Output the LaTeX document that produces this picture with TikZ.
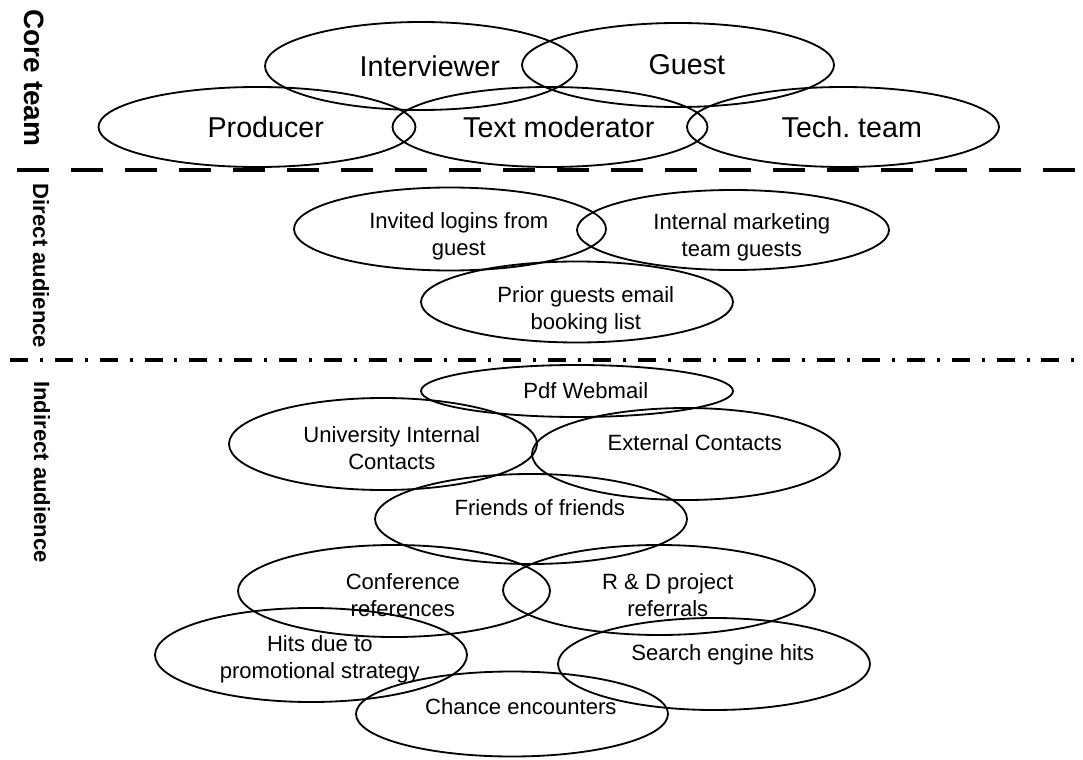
\documentclass[tikz,border=0pt]{standalone}
\usepackage{fontspec}
\setmainfont{Liberation Sans}
\usetikzlibrary{shapes.geometric}

\begin{document}
\begin{tikzpicture}[
    oval/.style={draw, ellipse, line width=1.3pt, inner sep=0pt, minimum width=7.8cm},
    big/.style={font=\fontsize{20.4}{24}\selectfont, xshift=2.2mm},
    txt/.style={font=\fontsize{15.7}{19}\selectfont, align=center, xshift=2.2mm},
    side/.style={font=\bfseries\fontsize{15.7}{19}\selectfont, rotate=-90}
  ]
  \useasboundingbox (0,0) rectangle (27.075,-19);

  % Core team
  \node[oval, minimum height=2.2cm, label={[big]center:Interviewer}] (intv) at (10.525,-1.65) {};
  \node[oval, minimum height=2.1cm, label={[big]center:Guest}] (guest) at (16.95,-1.625) {};
  \node[oval, minimum width=7.925cm, minimum height=2cm, label={[big]center:Producer}] (prod) at (6.425,-3.175) {};
  \node[oval, minimum width=7.875cm, minimum height=2cm, label={[big]center:Text moderator}] (tmod) at (13.75,-3.175) {};
  \node[oval, minimum height=2cm, label={[big]center:{Tech.\ team}}] (tech) at (21.075,-3.175) {};

  % Direct audience
  \node[oval, minimum height=2.075cm, label={[txt, yshift=-1.9mm]center:{Invited logins from\\guest}}] (invited) at (11.25,-5.725) {};
  \node[oval, minimum height=2cm, label={[txt, yshift=-1.75mm]center:{Internal marketing\\team guests}}] (intmkt) at (18.325,-5.75) {};
  \node[oval, minimum height=2.025cm, label={[txt, yshift=-2mm]center:{Prior guests email\\booking list}}] (prior) at (14.425,-7.55) {};

  % Indirect audience
  \node[oval, minimum height=1.3cm, label={[txt]center:Pdf Webmail}] (pdf) at (14.425,-9.775) {};
  \node[oval, minimum width=7.7cm, minimum height=2.3cm, label={[txt, yshift=-1.1mm]center:{University Internal\\Contacts}}] (univ) at (9.575,-11.1) {};
  \node[oval, minimum width=7.7cm, minimum height=2.3cm, label={[txt, yshift=2.75mm]center:External Contacts}] (ext) at (17.15,-11.35) {};
  \node[oval, minimum height=2.25cm, label={[txt, yshift=2.75mm]center:Friends of friends}] (friends) at (13.275,-12.975) {};
  \node[oval, minimum height=2.3cm, label={[txt, yshift=-1mm]center:{Conference\\references}}] (conf) at (9.85,-14.775) {};
  \node[oval, minimum height=2.25cm, label={[txt, yshift=-1.25mm]center:{R \& D project\\referrals}}] (rnd) at (16.475,-14.75) {};
  \node[oval, minimum height=2.35cm, label={[txt, yshift=-1.1mm]center:{Hits due to\\promotional strategy}}] (hits) at (7.775,-16.375) {};
  \node[oval, minimum height=2.3cm, label={[txt, yshift=2.25mm]center:Search engine hits}] (search) at (17.85,-16.6) {};
  \node[oval, minimum height=2.125cm, label={[txt, yshift=1.75mm]center:Chance encounters}] (chance) at (12.8,-17.85) {};

  % Separators
  \coordinate (dashL) at (0.425,-4.25);  \coordinate (dashR) at (27.075,-4.25);
  \coordinate (dotL) at (0.25,-9);       \coordinate (dotR) at (27.075,-9);
  \draw[line width=2.8pt, dash pattern=on 22.8pt off 15.6pt] (dashL) -- (dashR);
  \draw[line width=2.8pt, dash pattern=on 12.8pt off 8.5pt on 2.1pt off 8.5pt] (dotL) -- (dotR);

  % Side labels
  \node[side, font=\bfseries\fontsize{19.9}{24}\selectfont] (core) at (0.85,-1.95) {Core team};
  \node[side] (direct) at (1.025,-6.65) {Direct audience};
  \node[side] (indirect) at (1.05,-11.8) {Indirect audience};
\end{tikzpicture}
\end{document}
